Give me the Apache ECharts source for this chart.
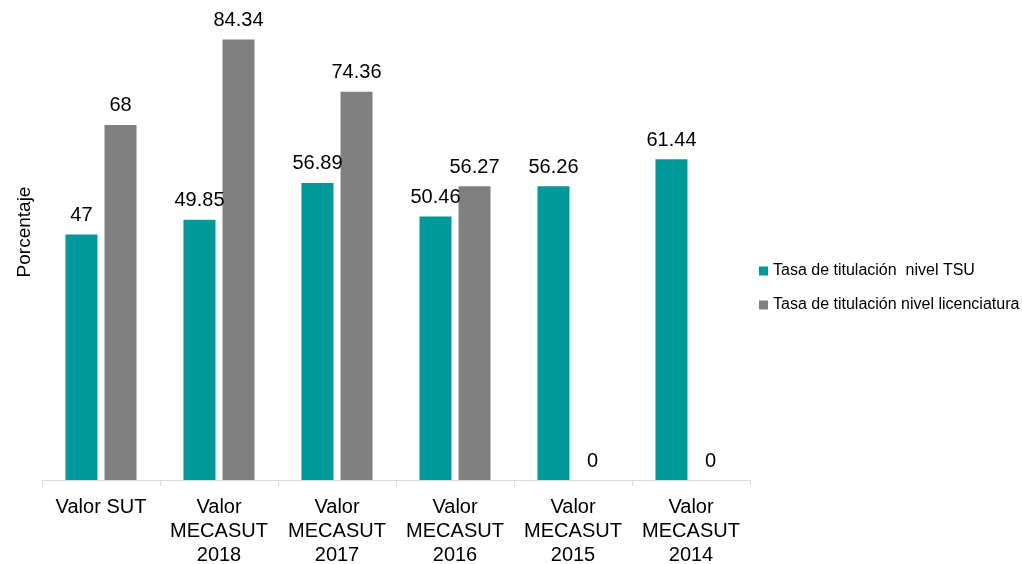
<!DOCTYPE html>
<html>
<head>
<meta charset="utf-8">
<script src="https://cdn.jsdelivr.net/npm/echarts@6/dist/echarts.min.js"></script>
<style>
  html, body { margin: 0; padding: 0; background: #fff; }
  #main { width: 1022px; height: 564px; }
</style>
</head>
<body>
<div id="main"></div>
<script>
var myChart = echarts.init(document.getElementById('main'));

var categories = ['Valor SUT', 'Valor\nMECASUT\n2018', 'Valor\nMECASUT\n2017', 'Valor\nMECASUT\n2016', 'Valor\nMECASUT\n2015', 'Valor\nMECASUT\n2014'];
var tsu = [47, 49.85, 56.89, 50.46, 56.26, 61.44];
var licenciatura = [68, 84.34, 74.36, 56.27, 0, 0];
var seriesNames = ['Tasa de titulación  nivel TSU', 'Tasa de titulación nivel licenciatura'];

var font = 'Arial, "Liberation Sans", sans-serif';

option = {
    animation: false,
    grid: {
        left: 42,
        right: 272,
        top: 10,
        bottom: 84,
        outerBoundsMode: 'none'
    },
    legend: {
        orient: 'vertical',
        left: 754,
        top: 258,
        itemWidth: 9,
        itemHeight: 9,
        itemGap: 18,
        icon: 'rect',
        textStyle: { fontFamily: font, fontSize: 16, color: '#000' },
        data: seriesNames
    },
    xAxis: {
        type: 'category',
        data: categories,
        axisLine: { lineStyle: { color: '#d9d9d9' } },
        axisTick: { show: true, length: 6, lineStyle: { color: '#d9d9d9' } },
        axisLabel: {
            interval: 0,
            margin: 15,
            fontFamily: font,
            fontSize: 20,
            lineHeight: 24,
            color: '#000'
        }
    },
    yAxis: {
        type: 'value',
        min: 0,
        max: 90,
        name: 'Porcentaje',
        nameLocation: 'middle',
        nameRotate: 90,
        nameGap: 8,
        nameTextStyle: { fontFamily: font, fontSize: 19, color: '#000', padding: [0, 0, 0, 26] },
        axisLine: { show: false },
        axisTick: { show: false },
        axisLabel: { show: false },
        splitLine: { show: false }
    },
    series: [{
        name: seriesNames[0],
        type: 'bar',
        data: tsu,
        barWidth: 32,
        barGap: '22%',
        itemStyle: { color: '#009999' },
        label: {
            show: true,
            position: 'top',
            distance: 9,
            fontFamily: font,
            fontSize: 20,
            color: '#000'
        }
    }, {
        name: seriesNames[1],
        type: 'bar',
        data: licenciatura,
        barWidth: 32,
        itemStyle: { color: '#808080' },
        label: {
            show: true,
            position: 'top',
            distance: 9,
            fontFamily: font,
            fontSize: 20,
            color: '#000'
        }
    }]
};
myChart.setOption(option);
</script>
</body>
</html>
